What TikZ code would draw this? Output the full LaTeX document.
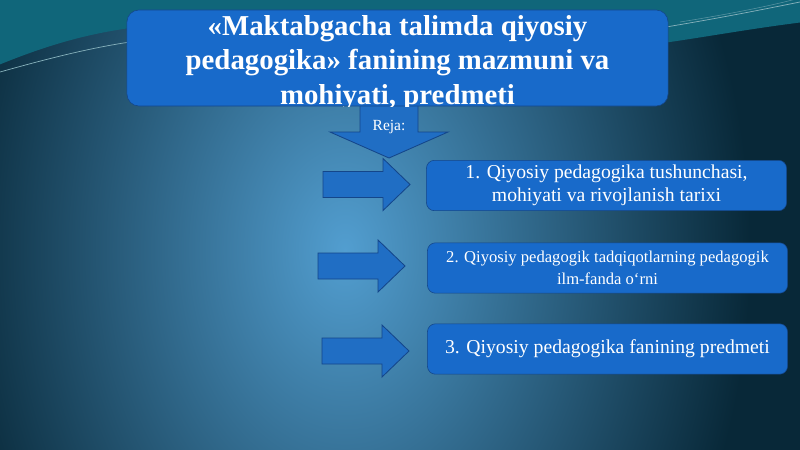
\documentclass[tikz,border=0pt]{standalone}
\usepackage{fontspec}
\setmainfont{Liberation Serif}
\usetikzlibrary{positioning}

\definecolor{bgdark}{RGB}{8,40,56}
\definecolor{bglight}{RGB}{82,158,208}
\definecolor{bgteal}{RGB}{16,102,122}
\definecolor{boxblue}{RGB}{24,106,202}
\definecolor{boxline}{RGB}{20,70,138}
\definecolor{arrowblue}{RGB}{32,110,196}
\pgfdeclareradialshading{glow}{\pgfpoint{0bp}{0bp}}{color(0bp)=(bglight); color(22bp)=(bgdark); color(50bp)=(bgdark)}

\begin{document}
\begin{tikzpicture}[x=0.025cm, y=-0.025cm,
	titlebox/.style={draw=boxline, fill=boxblue, rounded corners=0.3cm, minimum width=13.525cm, minimum height=2.4cm, inner sep=0pt},
	planbox/.style={draw=boxline, fill=boxblue, rounded corners=0.2cm, text=white, align=center, inner sep=0pt, minimum width=9cm, minimum height=1.26cm},
	blockarrow/.style={draw=boxline, fill=arrowblue, line width=0.6pt, line join=miter}]
	\useasboundingbox (0,0) rectangle (800,449);
	% background
	\begin{scope}
		\clip (-4,-4) rectangle (804,453);
		\shade[shading=glow] (-116,-390) rectangle (806,890);
		\fill[bgteal] (-4,-4) -- (804,-4) -- (804,22) .. controls (740,30) and (690,40) .. (640,46) -- (140,46) -- (130,28) .. controls (80,35) and (40,48) .. (-4,66) -- cycle;
		\draw[bgteal!50!white, line width=0.5pt] (0,72) .. controls (50,58) and (90,48) .. (130,42);
		\draw[bgteal!50!white, line width=0.5pt] (660,28) .. controls (720,18) and (760,10) .. (800,2);
		\draw[bgteal!70!white, line width=0.4pt] (680,22) .. controls (730,14) and (770,6) .. (800,-2);
	\end{scope}
	% plan arrow
	\draw[blockarrow] (360,100) -- (418,100) -- (418,132) -- (448,132) -- (389,158) -- (330,132) -- (360,132) -- cycle;
	\node[text=white, font=\fontsize{11}{13}\selectfont] (reja) at (389,127) {Reja:};
	% title
	\node[titlebox] (title) at (397.5,58) {};
	\begin{scope}
		\clip[rounded corners=0.3cm] (title.south west) rectangle (title.north east);
		\node[text=white, align=center, font=\bfseries\fontsize{20.5}{24.5}\selectfont] at ([yshift=-0.12cm]title.center) {«Maktabgacha talimda qiyosiy\\ pedagogika» fanining mazmuni va\\ mohiyati, predmeti};
	\end{scope}
	% items
	\foreach \x/\y in {323/184.5, 318/266, 322/351}
		\draw[blockarrow] (\x,\y-13) -- (\x+60,\y-13) -- (\x+60,\y-26) -- (\x+87,\y) -- (\x+60,\y+26) -- (\x+60,\y+13) -- (\x,\y+13) -- cycle;
	\node[planbox, font=\fontsize{14}{16.5}\selectfont] (plan1) at (606.5,185.5) {1. Qiyosiy pedagogika tushunchasi,\\ mohiyati va rivojlanish tarixi};
	\node[planbox, font=\fontsize{11.8}{15.5}\selectfont] (plan2) at (607.5,268) {2. Qiyosiy pedagogik tadqiqotlarning pedagogik\\ ilm-fanda o‘rni};
	\node[planbox, font=\fontsize{14}{16.5}\selectfont] (plan3) at (607.5,349) {3. Qiyosiy pedagogika fanining predmeti};
\end{tikzpicture}
\end{document}
